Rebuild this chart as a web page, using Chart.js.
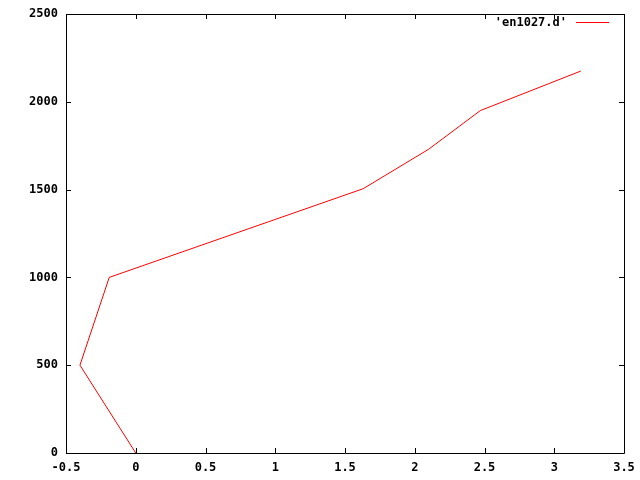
<!DOCTYPE html>
<html>
<head>
<meta charset="utf-8">
<script src="https://cdn.jsdelivr.net/npm/chart.js@4/dist/chart.umd.min.js"></script>
<style>
  html, body { margin: 0; padding: 0; background: #fff; }
  #wrap { width: 640px; height: 480px; }
</style>
</head>
<body>
<div id="wrap"><canvas id="chart" width="640" height="480"></canvas></div>
<script>
// data
const seriesLabel = "'en1027.d'";
const xValues = [0, -0.4, -0.19, 1.63, 2.1, 2.47, 3.19];
const yValues = [0, 500, 1000, 1505, 1730, 1950, 2175];
const xTicks = [-0.5, 0, 0.5, 1, 1.5, 2, 2.5, 3, 3.5];
const yTicks = [0, 500, 1000, 1500, 2000, 2500];

const tickFont = { family: 'DejaVu Sans Mono', size: 12, weight: 'bold' };

// gnuplot style: frame + inward ticks on all four sides, legend inside top right
const framePlugin = {
    id: 'frame',
    afterDraw(chart) {
        const ctx = chart.ctx;
        const a = chart.chartArea;
        const xs = chart.scales.x;
        const ys = chart.scales.y;
        const len = 5;
        ctx.save();
        ctx.strokeStyle = '#000';
        ctx.lineWidth = 1;
        ctx.beginPath();
        ctx.rect(Math.round(a.left) + 0.5, Math.round(a.top) + 0.5,
                 Math.round(a.right - a.left), Math.round(a.bottom - a.top));
        xTicks.forEach(v => {
            const px = Math.round(xs.getPixelForValue(v)) + 0.5;
            ctx.moveTo(px, a.bottom); ctx.lineTo(px, a.bottom - len);
            ctx.moveTo(px, a.top); ctx.lineTo(px, a.top + len);
        });
        yTicks.forEach(v => {
            const py = Math.round(ys.getPixelForValue(v)) + 0.5;
            ctx.moveTo(a.left, py); ctx.lineTo(a.left + len, py);
            ctx.moveTo(a.right, py); ctx.lineTo(a.right - len, py);
        });
        ctx.stroke();

        // legend
        const ds = chart.data.datasets[0];
        ctx.font = 'bold 12px "DejaVu Sans Mono"';
        ctx.fillStyle = '#000';
        ctx.textAlign = 'right';
        ctx.textBaseline = 'middle';
        ctx.fillText(ds.label, a.right - 57, a.top + 9);
        ctx.strokeStyle = ds.borderColor;
        ctx.beginPath();
        ctx.moveTo(a.right - 48, a.top + 8.5);
        ctx.lineTo(a.right - 15, a.top + 8.5);
        ctx.stroke();
        ctx.restore();
    }
};

new Chart(document.getElementById('chart'), {
    type: 'scatter',
    data: {
        datasets: [{
            label: seriesLabel,
            data: xValues.map((x, i) => ({ x: x, y: yValues[i] })),
            showLine: true,
            borderColor: '#ff0000',
            borderWidth: 1,
            pointRadius: 0,
            tension: 0,
            fill: false
        }]
    },
    options: {
        responsive: false,
        animation: false,
        layout: { padding: { top: 14, right: 16, left: 0, bottom: 0 } },
        plugins: {
            legend: { display: false },
            tooltip: { enabled: false }
        },
        scales: {
            x: {
                type: 'linear',
                min: -0.5,
                max: 3.5,
                afterBuildTicks: s => { s.ticks = xTicks.map(v => ({ value: v })); },
                afterFit: s => { s.height = 27; s.paddingLeft = 0; s.paddingRight = 0; },
                grid: { display: false, drawTicks: false },
                border: { display: false },
                ticks: {
                    color: '#000',
                    font: tickFont,
                    padding: 8,
                    maxRotation: 0,
                    autoSkip: false,
                    callback: v => String(v)
                }
            },
            y: {
                type: 'linear',
                min: 0,
                max: 2500,
                afterBuildTicks: s => { s.ticks = yTicks.map(v => ({ value: v })); },
                afterFit: s => { s.width = 66; s.paddingTop = 0; s.paddingBottom = 0; },
                grid: { display: false, drawTicks: false },
                border: { display: false },
                ticks: {
                    color: '#000',
                    font: tickFont,
                    padding: 8,
                    autoSkip: false,
                    callback: v => String(v)
                }
            }
        }
    },
    plugins: [framePlugin]
});
</script>
</body>
</html>
